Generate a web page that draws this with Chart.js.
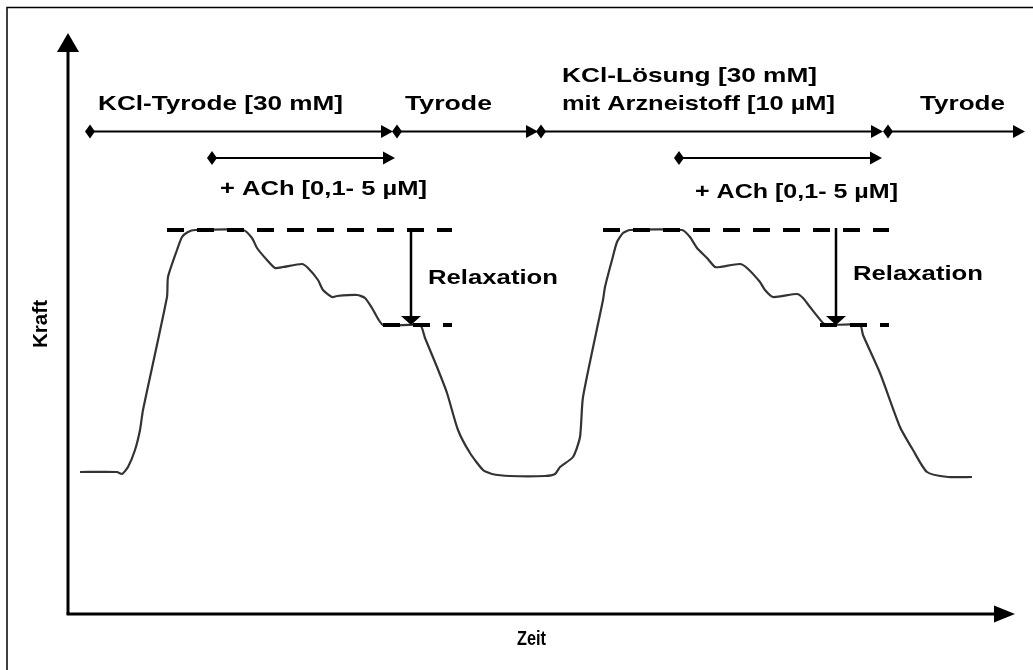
<!DOCTYPE html>
<html><head><meta charset="utf-8">
<script src="https://cdn.jsdelivr.net/npm/chart.js@4/dist/chart.umd.min.js"></script>
<style>html,body{margin:0;padding:0;background:#fff}#wrap{position:relative;width:1033px;height:670px}</style>
</head><body><div id="wrap"><canvas id="c"></canvas></div>
<script>
// time (arbitrary units, 0 = y axis) and force (arbitrary units, 0 = x axis)
const timeValues = [12,49,54,60,67,72,75,99,100,109,114,120,127,175,184,189,199,207,215,234,240,250,255,264,269,289,297,304,315,352,357,369,379,390,402,415,424,442,477,487,492,505,512,515,535,537,544,549,555,562,614,622,629,639,647,652,672,679,692,697,705,729,735,742,755,759,792,795,812,832,845,859,880,904];
const forceValues = [142,142,140,147,164,184,204,317,337,364,377,382,384,384,376,366,354,346,347,350,346,334,324,317,318,319,316,306,289,289,276,247,221,184,161,144,140,138,138,140,147,157,177,217,314,327,354,372,381,384,384,377,366,356,347,347,350,346,332,324,317,320,316,307,291,289,289,279,241,187,164,142,137,137];

const axisMax = { time: 947, force: 580 };
const axisTitles = { x: 'Zeit', y: 'Kraft' };

// solution periods (top row): start time, end time
const solutionStart = [22, 329, 473, 820];
const solutionEnd   = [325, 470, 815, 957];
const solutionLevel = 482.5;
// ACh additions (second row)
const achStart = [144, 611];
const achEnd   = [327, 814];
const achLevel = 456;
// relaxation: peak and plateau force, measurement time, dashed extents
const peakForce = [384, 384];
const plateauForce = [289, 289];
const relaxTime = [343, 768];
const peakDashFrom = [99, 535];
const plateauDashFrom = [315, 752];
const dashTo = [384, 821];

// labels: text, left time, right time, baseline force
const labelTexts = ['KCl-Tyrode [30 mM]','Tyrode','+ ACh [0,1- 5 µM]','KCl-Lösung [30 mM]','mit Arzneistoff [10 µM]','Tyrode','+ ACh [0,1- 5 µM]','Relaxation','Relaxation'];
const labelFrom  = [30, 337, 152, 494, 494, 852, 627, 360, 785];
const labelTo    = [275, 424, 359, 749, 767, 937, 830, 490, 915];
const labelBase  = [504, 504, 419, 532, 504, 504, 416, 330, 334];

const FONT = '"Liberation Sans", Arial, sans-serif';

function fitText(ctx, text, x0, x1, yBase, size){
  ctx.save();
  ctx.font = 'bold ' + size + 'px ' + FONT;
  ctx.textBaseline = 'alphabetic';
  ctx.textAlign = 'left';
  const w = ctx.measureText(text).width;
  const sx = (x1 - x0) / w;
  ctx.translate(x0, yBase);
  ctx.scale(sx, 1);
  ctx.fillStyle = '#000';
  ctx.fillText(text, 0, 0);
  ctx.restore();
}
function arrowHeadRight(ctx, xt, y, len, half){
  ctx.beginPath(); ctx.moveTo(xt, y); ctx.lineTo(xt-len, y-half); ctx.lineTo(xt-len, y+half); ctx.closePath(); ctx.fill();
}
function diamond(ctx, x, y, hw, hh){
  ctx.beginPath(); ctx.moveTo(x-hw, y); ctx.lineTo(x, y-hh); ctx.lineTo(x+hw, y); ctx.lineTo(x, y+hh); ctx.closePath(); ctx.fill();
}

const diagram = {
  id: 'diagram',
  afterDraw(chart){
    const ctx = chart.ctx, X = chart.scales.x, Y = chart.scales.y, a = chart.chartArea;
    const px = v => X.getPixelForValue(v), py = v => Y.getPixelForValue(v);
    ctx.save();
    ctx.fillStyle = '#000'; ctx.strokeStyle = '#000';
    // frame
    ctx.lineWidth = 1.5; ctx.strokeRect(7, 7.5, 1200, 1200);
    // axes
    ctx.lineWidth = 3;
    ctx.beginPath(); ctx.moveTo(a.left, a.bottom); ctx.lineTo(a.left, a.top + 16); ctx.stroke();
    ctx.beginPath(); ctx.moveTo(a.left - 1.5, a.bottom); ctx.lineTo(a.right - 18, a.bottom); ctx.stroke();
    ctx.beginPath(); ctx.moveTo(a.left, a.top - 1); ctx.lineTo(a.left - 11, a.top + 18); ctx.lineTo(a.left + 11, a.top + 18); ctx.closePath(); ctx.fill();
    arrowHeadRight(ctx, a.right, a.bottom, 21, 8.5);
    // axis titles
    fitText(ctx, axisTitles.x, 517, 546, 645, 20);
    ctx.save(); ctx.translate(47, 348); ctx.rotate(-Math.PI/2);
    fitText(ctx, axisTitles.y, 0, 48, 0, 20);
    ctx.restore();
    // solution bars
    ctx.lineWidth = 2;
    const drawBar = (s, e, lvl) => {
      const y = py(lvl);
      ctx.beginPath(); ctx.moveTo(px(s), y); ctx.lineTo(px(e) - 6, y); ctx.stroke();
      diamond(ctx, px(s), y, 5, 7);
      arrowHeadRight(ctx, px(e), y, 12, 6.5);
    };
    for (let i = 0; i < solutionStart.length; i++) drawBar(solutionStart[i], solutionEnd[i], solutionLevel);
    for (let i = 0; i < achStart.length; i++) drawBar(achStart[i], achEnd[i], achLevel);
    // dashed reference lines
    ctx.lineWidth = 4; ctx.setLineDash([17, 13]);
    for (let i = 0; i < peakForce.length; i++){
      ctx.beginPath(); ctx.moveTo(px(peakDashFrom[i]), py(peakForce[i])); ctx.lineTo(px(dashTo[i]), py(peakForce[i])); ctx.stroke();
      ctx.beginPath(); ctx.moveTo(px(plateauDashFrom[i]), py(plateauForce[i])); ctx.lineTo(px(dashTo[i]), py(plateauForce[i])); ctx.stroke();
    }
    ctx.setLineDash([]);
    // relaxation arrows
    ctx.lineWidth = 2.5;
    for (let i = 0; i < relaxTime.length; i++){
      const x = px(relaxTime[i]), y0 = py(peakForce[i]), y1 = py(plateauForce[i]);
      ctx.beginPath(); ctx.moveTo(x, y0 - 2); ctx.lineTo(x, y1 - 8); ctx.stroke();
      ctx.beginPath(); ctx.moveTo(x, y1); ctx.lineTo(x - 10, y1 - 9); ctx.lineTo(x + 10, y1 - 9); ctx.closePath(); ctx.fill();
    }
    // labels
    for (let i = 0; i < labelTexts.length; i++) fitText(ctx, labelTexts[i], px(labelFrom[i]), px(labelTo[i]), py(labelBase[i]), 21);
    ctx.restore();
  }
};

new Chart(document.getElementById('c'), {
  type: 'line',
  data: {
    labels: timeValues,
    datasets: [{
      data: timeValues.map((t, i) => ({ x: t, y: forceValues[i] })),
      borderColor: '#333333', borderWidth: 2.2, pointRadius: 0,
      tension: 0.2, fill: false
    }]
  },
  options: {
    responsive: true, maintainAspectRatio: false, animation: false,
    layout: { padding: { left: 68, right: 18, top: 34, bottom: 56 } },
    plugins: { legend: { display: false }, tooltip: { enabled: false } },
    scales: {
      x: { type: 'linear', min: 0, max: axisMax.time, display: false },
      y: { type: 'linear', min: 0, max: axisMax.force, display: false }
    }
  },
  plugins: [diagram]
});
</script></body></html>
